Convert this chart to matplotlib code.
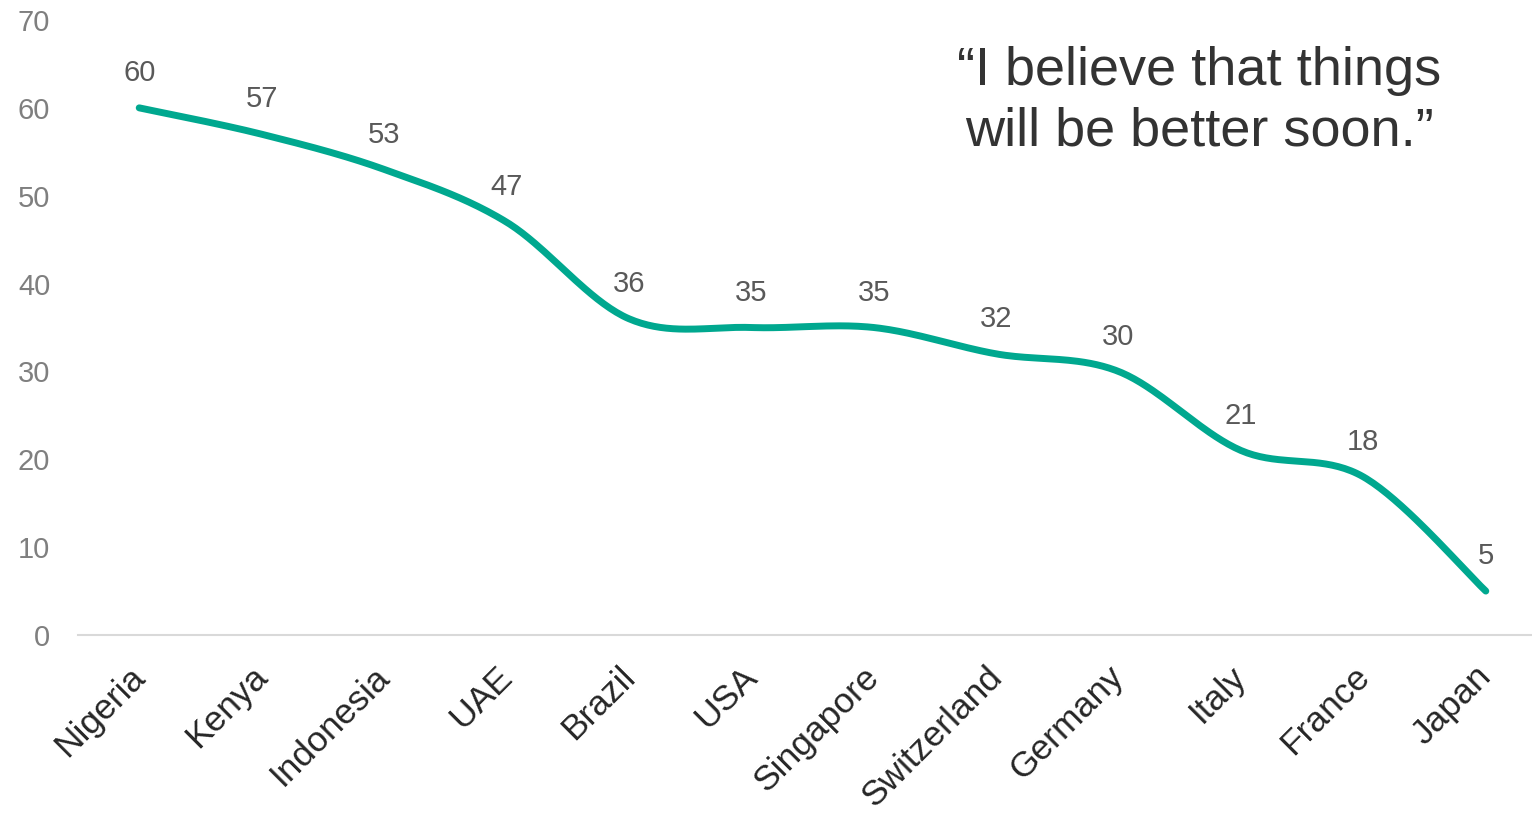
import numpy as np
import matplotlib.pyplot as plt

plt.rcParams['font.family'] = ['Liberation Sans', 'DejaVu Sans']

countries = ["Nigeria", "Kenya", "Indonesia", "UAE", "Brazil", "USA",
             "Singapore", "Switzerland", "Germany", "Italy", "France", "Japan"]
values = [60, 57, 53, 47, 36, 35, 35, 32, 30, 21, 18, 5]
quote = "\u201cI believe that things\nwill be better soon.\u201d"

line_color = "#00A88F"


def smooth_curve(x, y, steps=40):
    # Excel-style smoothed line: Catmull-Rom through the points as cubic Beziers
    x = np.asarray(x, dtype=float)
    y = np.asarray(y, dtype=float)
    pts = np.column_stack([x, y])
    padded = np.vstack([pts[0], pts, pts[-1]])
    t = np.linspace(0, 1, steps)[:, None]
    out = []
    for i in range(len(pts) - 1):
        p0, p3 = pts[i], pts[i + 1]
        p1 = p0 + (padded[i + 2] - padded[i]) / 6
        p2 = p3 - (padded[i + 3] - padded[i + 1]) / 6
        seg = ((1 - t) ** 3 * p0 + 3 * (1 - t) ** 2 * t * p1
               + 3 * (1 - t) * t ** 2 * p2 + t ** 3 * p3)
        out.append(seg if i == 0 else seg[1:])
    out = np.vstack(out)
    return out[:, 0], out[:, 1]


fig = plt.figure(figsize=(15.32, 8.14), dpi=100)
ax = fig.add_axes([78 / 1532, 179 / 814, 1469 / 1532, 615 / 814])

xs = np.arange(len(countries))
sx, sy = smooth_curve(xs, values)
ax.plot(sx, sy, color=line_color, lw=5, solid_capstyle="round", clip_on=False)

for xi, v in zip(xs, values):
    ax.annotate(str(v), (xi, v), xytext=(0, 25), textcoords="offset points",
                ha="center", va="center", fontsize=21, color="#595959")

ax.set_xlim(-0.5, len(countries) - 0.5)
ax.set_ylim(0, 70)
ax.set_yticks(range(0, 71, 10))
ax.set_xticks(xs)
ax.set_xticklabels([])
# category labels, rotated and nudged like the original
for xi, name in zip(xs, countries):
    ax.annotate(name, (xi, 0), xytext=(-8, -18), textcoords="offset points",
                rotation=45, ha="right", va="top", rotation_mode="anchor",
                fontsize=25.5, color="#262626", annotation_clip=False)
ax.tick_params(axis="y", length=0, pad=20, labelsize=21, labelcolor="#7f7f7f")
ax.tick_params(axis="x", length=0)
for s in ["left", "right", "top"]:
    ax.spines[s].set_visible(False)
ax.spines["bottom"].set_color("#d9d9d9")
ax.spines["bottom"].set_linewidth(1.5)

fig.text(1199 / 1532, 1 - 101 / 814, quote, ha="center", va="center",
         fontsize=39, color="#333333", linespacing=1.28)

fig.savefig("out.png", dpi=100)
